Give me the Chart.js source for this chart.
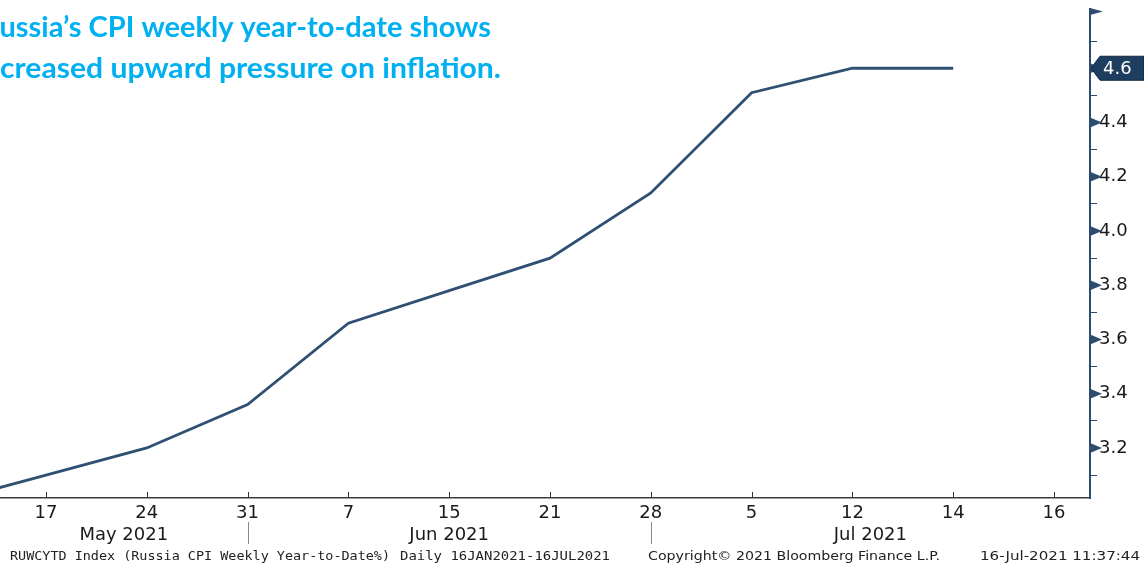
<!DOCTYPE html>
<html>
<head>
<meta charset="utf-8">
<script src="https://cdn.jsdelivr.net/npm/chart.js@4/dist/chart.umd.min.js"></script>
<style>
  html, body { margin: 0; padding: 0; background: #fff; }
  #chart { display: block; }
</style>
</head>
<body>
<canvas id="chart" width="1144" height="566"></canvas>
<script>
// weekly tick labels, first one sits just off the left edge
const weekLabels = ['10', '17', '24', '31', '7', '15', '21', '28', '5', '12', '14', '16'];
const cpiValues = [3.00, 3.10, 3.20, 3.36, 3.66, 3.78, 3.90, 4.14, 4.51, 4.60, 4.60];
const yTickValues = [3.1, 3.2, 3.3, 3.4, 3.5, 3.6, 3.7, 3.8, 3.9, 4.0, 4.1, 4.2, 4.3, 4.4, 4.5, 4.6, 4.7];
const yLabels = ['3.2', '3.4', '3.6', '3.8', '4.0', '4.2', '4.4'];
const monthNames = ['May 2021', 'Jun 2021', 'Jul 2021'];
const monthBreaks = [3, 7];  // index of '31' and '28'
const lastLabel = '4.6';
const titleLines = ['Russia\u2019s CPI weekly year-to-date shows', 'increased upward pressure on inflation.'];
const footer = [
    'RUWCYTD Index (Russia CPI Weekly Year-to-Date%)',
    'Daily 16JAN2021-16JUL2021',
    'Copyright\u00A9 2021 Bloomberg Finance L.P.',
    '16-Jul-2021 11:37:44'
];

const AXIS = '#2e4d6e';
const TEXT = '#1a1a1a';
const FONT = '"DejaVu Sans", Verdana, sans-serif';
const MONO = '"DejaVu Sans Mono", "Liberation Mono", monospace';

// draw text squeezed/stretched to a given width
function fitText(ctx, text, x, y, width) {
    const w = ctx.measureText(text).width;
    ctx.save();
    ctx.translate(x, y);
    ctx.scale(width / w, 1);
    ctx.fillText(text, 0, 0);
    ctx.restore();
}

const decorations = {
    id: 'decorations',
    afterDraw(chart) {
        const ctx = chart.ctx;
        const area = chart.chartArea;
        const x = chart.scales.x;
        const y = chart.scales.y;
        ctx.save();

        // inward ticks on the date axis
        ctx.strokeStyle = '#333';
        ctx.lineWidth = 1;
        x.ticks.forEach((t) => {
            const px = Math.round(x.getPixelForValue(t.value)) + 0.5;
            ctx.beginPath();
            ctx.moveTo(px, area.bottom);
            ctx.lineTo(px, area.bottom - 6);
            ctx.stroke();
        });

        // month separators and month labels
        ctx.strokeStyle = '#8a8a8a';
        monthBreaks.forEach((b) => {
            const px = Math.round(x.getPixelForValue(b)) + 0.5;
            ctx.beginPath();
            ctx.moveTo(px, area.bottom + 24);
            ctx.lineTo(px, area.bottom + 46);
            ctx.stroke();
        });
        const edges = [area.left, ...monthBreaks.map((b) => x.getPixelForValue(b)), area.right];
        ctx.fillStyle = TEXT;
        ctx.font = '18px ' + FONT;
        ctx.textAlign = 'center';
        ctx.textBaseline = 'middle';
        monthNames.forEach((m, i) => {
            ctx.fillText(m, (edges[i] + edges[i + 1]) / 2, area.bottom + 37);
        });

        // right axis: arrow heads on major ticks, flag on top
        ctx.fillStyle = AXIS;
        y.ticks.forEach((t) => {
            if (Math.round(t.value * 10) % 2 !== 0) return;
            const py = y.getPixelForValue(t.value);
            ctx.beginPath();
            ctx.moveTo(area.right, py - 5);
            ctx.lineTo(area.right + 12, py);
            ctx.lineTo(area.right, py + 5);
            ctx.closePath();
            ctx.fill();
        });
        ctx.strokeStyle = AXIS;
        ctx.lineWidth = 2;
        ctx.beginPath();
        ctx.moveTo(area.right, area.top - 6);
        ctx.lineTo(area.right, area.top);
        ctx.stroke();
        ctx.beginPath();
        ctx.moveTo(area.right, area.top - 6);
        ctx.lineTo(area.right + 13, area.top - 2.5);
        ctx.lineTo(area.right, area.top + 1);
        ctx.closePath();
        ctx.fill();

        // last value box
        const ly = y.getPixelForValue(cpiValues[cpiValues.length - 1]);
        const bx = area.right + 1;
        ctx.fillStyle = '#1e3e60';
        ctx.strokeStyle = '#0f2740';
        ctx.lineWidth = 1;
        ctx.beginPath();
        ctx.moveTo(bx, ly);
        ctx.lineTo(bx + 9, ly - 12);
        ctx.lineTo(1144, ly - 12);
        ctx.lineTo(1144, ly + 12);
        ctx.lineTo(bx + 9, ly + 12);
        ctx.closePath();
        ctx.fill();
        ctx.stroke();
        ctx.fillStyle = '#ffffff';
        ctx.font = '18px ' + FONT;
        ctx.textAlign = 'left';
        ctx.fillText(lastLabel, bx + 12, ly + 1);

        // title, cropped on the left like the source slide
        ctx.fillStyle = '#00b0f0';
        ctx.font = 'bold 29px Lato, "Open Sans", sans-serif';
        ctx.textBaseline = 'alphabetic';
        const targets = [{cut: 'R', width: 491, base: 37}, {cut: 'in', width: 501, base: 78}];
        titleLines.forEach((line, i) => {
            const tg = targets[i];
            const cut = ctx.measureText(tg.cut).width;
            const full = ctx.measureText(line).width;
            const s = tg.width / (full - cut);
            ctx.save();
            ctx.translate(-cut * s, tg.base);
            ctx.scale(s, 1);
            ctx.fillText(line, 0, 0);
            ctx.restore();
        });

        // footer
        ctx.fillStyle = '#222';
        ctx.textBaseline = 'middle';
        ctx.font = '13px ' + MONO;
        fitText(ctx, footer[0], 10, 557, 380);
        fitText(ctx, footer[1], 400, 557, 210);
        ctx.font = '13px ' + FONT;
        fitText(ctx, footer[2], 648, 557, 292);
        fitText(ctx, footer[3], 980, 557, 160);

        ctx.restore();
    }
};

const data = {
    datasets: [{
        label: 'RUWCYTD',
        data: cpiValues.map((v, i) => ({x: i, y: v})),
        borderColor: '#2f5073',
        borderWidth: 2.8,
        pointRadius: 0,
        tension: 0,
        fill: false
    }]
};

const options = {
    responsive: false,
    animation: false,
    layout: {padding: {top: 14, left: 0, right: 0, bottom: 0}},
    plugins: {
        legend: {display: false},
        tooltip: {enabled: false}
    },
    scales: {
        x: {
            type: 'linear',
            min: 0.544,
            max: 11.357,
            afterBuildTicks: (scale) => {
                scale.ticks = weekLabels.slice(1).map((l, i) => ({value: i + 1}));
            },
            afterFit: (scale) => { scale.height = 68; },
            grid: {display: false, drawTicks: false},
            border: {display: true, color: '#3c3c3c', width: 1.5},
            ticks: {
                autoSkip: false,
                maxRotation: 0,
                padding: 5,
                color: TEXT,
                font: {family: FONT, size: 18},
                callback: (v) => weekLabels[v]
            }
        },
        y: {
            type: 'linear',
            position: 'right',
            min: 3.0155,
            max: 4.8,
            afterBuildTicks: (scale) => {
                scale.ticks = yTickValues.map((v) => ({value: v}));
            },
            afterFit: (scale) => { scale.width = 54; },
            grid: {drawOnChartArea: false, tickLength: 7, color: AXIS, lineWidth: 1},
            border: {display: true, color: AXIS, width: 2},
            ticks: {
                autoSkip: false,
                padding: 2,
                color: TEXT,
                font: {family: FONT, size: 18},
                callback: (v) => {
                    const s = v.toFixed(1);
                    return yLabels.includes(s) ? s : '';
                }
            }
        }
    }
};

new Chart(document.getElementById('chart'), {
    type: 'line',
    data,
    options,
    plugins: [decorations]
});
</script>
</body>
</html>
